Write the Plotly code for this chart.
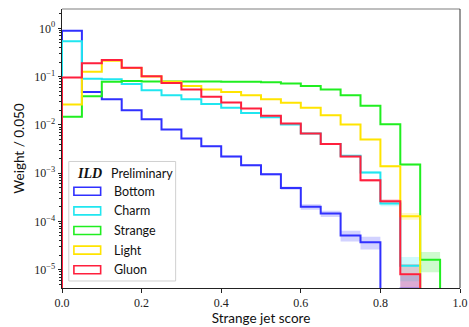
import numpy as np
import plotly.graph_objects as go

# ---------------- data ----------------
bin_edges = [round(0.05 * i, 2) for i in range(21)]
series_names = ["Bottom", "Charm", "Strange", "Light", "Gluon"]
series_colors = ["#3030ff", "#20e6f0", "#20ee20", "#ffe400", "#ff1f3d"]

bottom = [0.89, 0.048, 0.034, 0.020, 0.013, 0.008, 0.0052, 0.0036, 0.0022, 0.00146,
          0.00095, 0.00049, 0.00020, 0.000145, 5.1e-5, 3.7e-5, 0, 4e-6, 0, 0]
charm = [0.537, 0.090, 0.088, 0.070, 0.052, 0.041, 0.034, 0.027, 0.0225, 0.0177,
         0.0143, 0.0102, 0.0066, 0.0040, 0.0023, 0.00103, 0.000234, 1.2e-5, 0, 0]
strange = [0.0147, 0.039, 0.078, 0.081, 0.079, 0.079, 0.079, 0.079, 0.078, 0.078,
           0.076, 0.072, 0.0635, 0.054, 0.041, 0.0248, 0.0103, 0.0015, 1.6e-5, 0]
light = [0.0265, 0.126, 0.213, 0.150, 0.100, 0.078, 0.0635, 0.054, 0.048, 0.041,
         0.034, 0.0286, 0.0225, 0.0159, 0.0102, 0.0050, 0.00139, 0.000128, 0, 0]
gluon = [0.096, 0.188, 0.220, 0.152, 0.102, 0.074, 0.054, 0.038, 0.029, 0.0219,
         0.0154, 0.0107, 0.0066, 0.0040, 0.0022, 0.00071, 0.00026, 8e-6, 0, 0]
series_values = [bottom, charm, strange, light, gluon]
stat_scale = 0.0018  # statistical uncertainty ~ stat_scale * sqrt(weight)

y_tick_vals = [1e-5, 1e-4, 1e-3, 1e-2, 1e-1, 1e0]
y_tick_text = ["10<sup>\u22125</sup>", "10<sup>\u22124</sup>", "10<sup>\u22123</sup>",
               "10<sup>\u22122</sup>", "10<sup>\u22121</sup>", "10<sup>0</sup>"]
x_tick_vals = [0.0, 0.2, 0.4, 0.6, 0.8, 1.0]
x_tick_text = ["0.0", "0.2", "0.4", "0.6", "0.8", "1.0"]

FLOOR = 1e-9


def rgba(hexc, a):
    h = hexc.lstrip("#")
    r, g, b = int(h[0:2], 16), int(h[2:4], 16), int(h[4:6], 16)
    return f"rgba({r},{g},{b},{a})"


fig = go.Figure()

# uncertainty bands
for name, col, vals in zip(series_names, series_colors, series_values):
    xs_up, ys_up, xs_lo, ys_lo = [], [], [], []
    for i, v in enumerate(vals):
        e0, e1 = bin_edges[i], bin_edges[i + 1]
        if v > 0:
            err = stat_scale * np.sqrt(v)
            hi = v + err
            lo = max(v - err, FLOOR)
        else:
            hi = lo = FLOOR
        xs_up += [e0, e1]
        ys_up += [hi, hi]
        xs_lo += [e0, e1]
        ys_lo += [lo, lo]
    xs = xs_up + xs_lo[::-1]
    ys = ys_up + ys_lo[::-1]
    fig.add_trace(go.Scatter(x=xs, y=ys, fill="toself", fillcolor=rgba(col, 0.22),
                             line=dict(width=0), mode="lines", showlegend=False,
                             hoverinfo="skip"))

# step lines
for name, col, vals in zip(series_names, series_colors, series_values):
    xs = [bin_edges[0]] + bin_edges[:-1] + [bin_edges[-1]]
    ys = [FLOOR] + [v if v > 0 else FLOOR for v in vals] + [FLOOR]
    fig.add_trace(go.Scatter(x=xs, y=ys, mode="lines", line=dict(color=col, width=2, shape="hv"),
                             name=name, showlegend=False))

minor_vals = [m * 10.0 ** k for k in range(-6, 1) for m in range(2, 10)]

serif = "Liberation Serif"
sans = "Lato"

fig.update_layout(
    width=469, height=327,
    margin=dict(l=62, r=9, t=9, b=39, autoexpand=False),
    paper_bgcolor="white", plot_bgcolor="white",
    showlegend=False,
    xaxis=dict(range=[0, 1], tickvals=x_tick_vals, ticktext=x_tick_text, automargin=False,
               ticks="outside", ticklen=3.5, tickwidth=0.8, tickcolor="#222",
               showline=True, linecolor="#222", linewidth=1, mirror=False,
               showgrid=False, zeroline=False,
               tickfont=dict(family=serif, size=12, color="#222"),
               title=dict(text="Strange jet score", font=dict(family=sans, size=13.5, color="#111"),
                          standoff=4)),
    yaxis=dict(type="log", range=[-5.38, 0.40], tickvals=y_tick_vals, ticktext=y_tick_text,
               automargin=False,
               ticks="outside", ticklen=3.5, tickwidth=0.8, tickcolor="#222",
               minor=dict(tickvals=minor_vals, ticks="outside", ticklen=2, tickwidth=0.6,
                          tickcolor="#222"),
               showline=True, linecolor="#222", linewidth=1, mirror=False,
               showgrid=False, zeroline=False,
               tickfont=dict(family=serif, size=12, color="#222"),
               title=dict(text="Weight / 0.050", font=dict(family=sans, size=13.5, color="#111"),
                          standoff=6)),
)

# top and right spines
fig.add_shape(type="line", xref="paper", yref="paper", x0=0, x1=1, y0=1, y1=1,
              line=dict(color="#a8a8a8", width=1.5))
fig.add_shape(type="line", xref="paper", yref="paper", x0=1, x1=1, y0=0, y1=1,
              line=dict(color="#333", width=1))

# legend (manual, to get outlined patches)
fig.add_shape(type="rect", xref="paper", yref="paper", x0=0.0171, x1=0.2855, y0=0.0251, y1=0.4535,
              line=dict(color="#d0d0d0", width=1), fillcolor="rgba(255,255,255,0.85)", layer="above")
fig.add_annotation(xref="paper", yref="paper", x=0.0320, y=0.4105, xanchor="left", yanchor="middle",
                   text="<b><i>ILD</i></b>", showarrow=False,
                   font=dict(family=serif, size=14, color="#111"))
fig.add_annotation(xref="paper", yref="paper", x=0.1185, y=0.4105, xanchor="left", yanchor="middle",
                   text="Preliminary", showarrow=False,
                   font=dict(family=sans, size=12.5, color="#111"))
plot_top, plot_h = 9.0, 279.0
for i, (name, col) in enumerate(zip(series_names, series_colors)):
    yc_px = 191.3 + i * 19.6
    yc = (plot_top + plot_h - yc_px) / plot_h
    fig.add_shape(type="rect", xref="paper", yref="paper", x0=0.0299, x1=0.0971,
                  y0=yc - 4 / plot_h, y1=yc + 4 / plot_h,
                  line=dict(color=col, width=1.6), fillcolor="rgba(0,0,0,0)", layer="above")
    fig.add_annotation(xref="paper", yref="paper", x=0.1245, y=yc, xanchor="left", yanchor="middle",
                       text=name, showarrow=False,
                       font=dict(family=sans, size=12.5, color="#111"))

fig.write_html("out.html")
